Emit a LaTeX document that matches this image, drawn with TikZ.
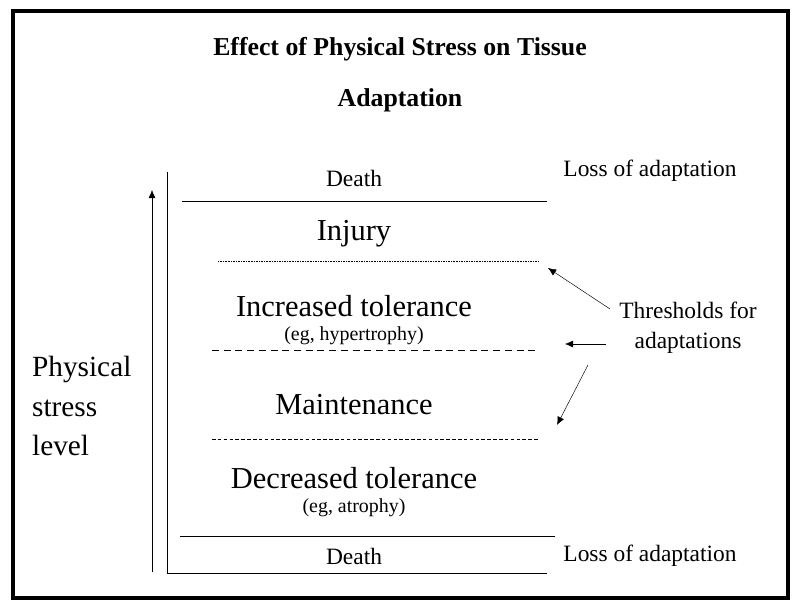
\documentclass[tikz,border=0pt]{standalone}
\usepackage{fontspec}
\setmainfont{Liberation Serif}
\usetikzlibrary{arrows.meta}
\tikzset{
  zone/.style={font=\fontsize{26}{30}\selectfont},
  note/.style={font=\fontsize{17}{19}\selectfont},
  edge/.style={font=\fontsize{20}{26}\selectfont},
  point/.style={-{Latex[length=7pt,width=6pt]}, thin}
}
\begin{document}
\begin{tikzpicture}[x=0.03cm, y=-0.03cm]
        % frame
        \useasboundingbox (0,0) rectangle (800,609);
        \draw[line width=3pt] (13,11) rectangle (788,598);
        \node[font=\fontsize{22}{24}\selectfont\bfseries] (title1) at (400,49) {Effect of Physical Stress on Tissue};
        \node[font=\fontsize{22}{24}\selectfont\bfseries] (title2) at (400,100) {Adaptation};
        
        % axes
        \draw[thin] (167,172) -- (167,573) -- (547,573);
        \coordinate (up0) at (152,572);
        \coordinate (up1) at (152,190);
        \draw[point] (up0) -- (up1);
        \node[zone, align=left, anchor=west, font=\fontsize{25}{34}\selectfont] (level) at (28,406) {Physical\\stress\\level};
        
        % zones
        \node[edge] (deathtop) at (354,178) {Death};
        \draw (182,201) -- (547,201);
        \node[zone] (injury) at (354,234) {Injury};
        \draw[densely dotted] (218,261) -- (538,261);
        \node[zone] (incr) at (354,306) {Increased tolerance};
        \node[note] (hyper) at (354,336) {(eg, hypertrophy)};
        \draw[dash pattern=on 6pt off 4pt] (212,350) -- (540,350);
        \node[zone] (maint) at (354,405) {Maintenance};
        \draw[dash pattern=on 3pt off 2pt] (212,439) -- (540,439);
        \node[zone] (decr) at (354,478) {Decreased tolerance};
        \node[note] (atro) at (354,508) {(eg, atrophy)};
        \draw (180,536) -- (555,536);
        \node[edge] (deathbot) at (354,556) {Death};
        
        % right side
        \node[edge] (losstop) at (650,171) {Loss of adaptation};
        \node[edge] (lossbot) at (650,556) {Loss of adaptation};
        \node[edge, align=center] (thresh) at (688,328) {Thresholds for\\adaptations};
        \coordinate (t1) at (548,268);
        \coordinate (t2) at (565,344);
        \coordinate (t3) at (557,425);
        \draw[point] (610,309) -- (t1);
        \draw[point] (606,344) -- (t2);
        \draw[point] (588,365) -- (t3);
    \end{tikzpicture}
\end{document}
